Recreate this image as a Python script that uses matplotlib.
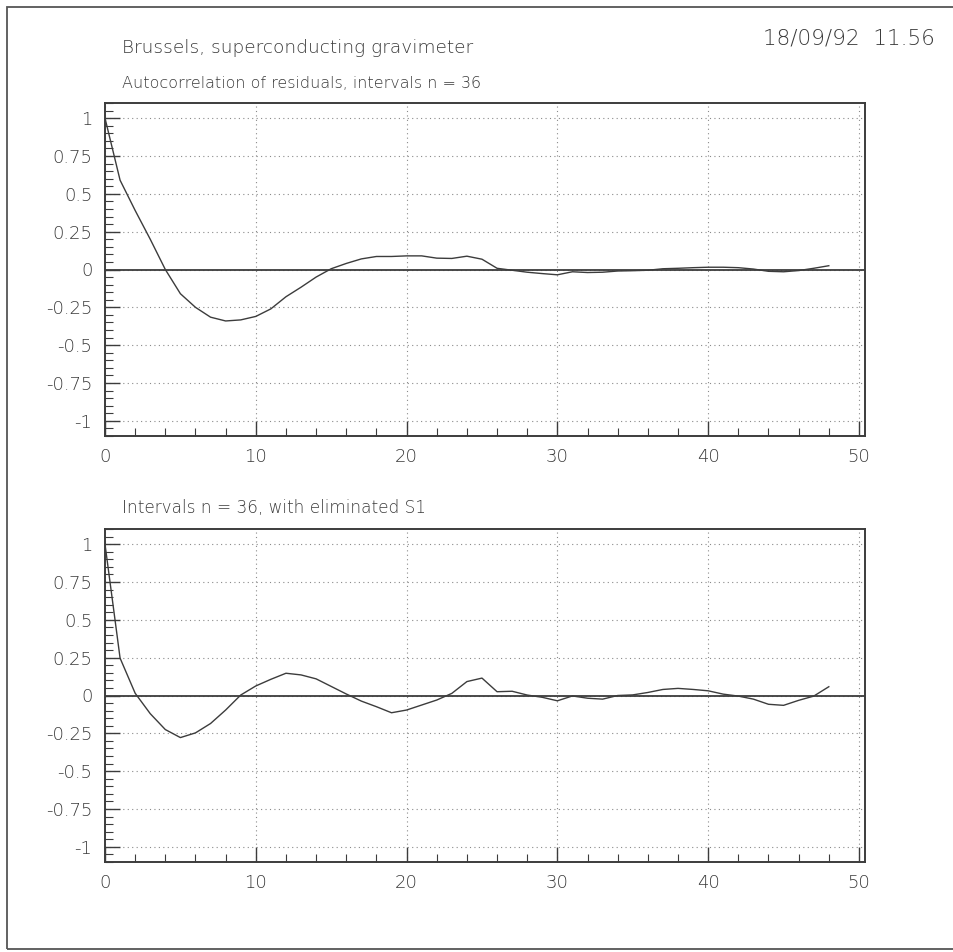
import numpy as np
import matplotlib.pyplot as plt
from matplotlib.patches import Rectangle
from matplotlib.ticker import MultipleLocator, FuncFormatter

# autocorrelation of residuals, lags 0..48
lags = np.arange(49)
acf_resid = [1.00, 0.59, 0.39, 0.20, 0.00, -0.16, -0.25, -0.315, -0.34, -0.333,
             -0.31, -0.26, -0.18, -0.117, -0.05, 0.005, 0.04, 0.07, 0.086, 0.086,
             0.09, 0.09, 0.075, 0.073, 0.088, 0.068, 0.008, -0.005, -0.018, -0.027,
             -0.035, -0.015, -0.02, -0.018, -0.01, -0.008, -0.005, 0.005, 0.008, 0.012,
             0.015, 0.015, 0.012, 0.003, -0.012, -0.015, -0.007, 0.008, 0.025]

# same, after removing S1
acf_no_s1 = [1.00, 0.247, 0.015, -0.12, -0.225, -0.278, -0.247, -0.185, -0.096, 0.003,
             0.063, 0.107, 0.147, 0.136, 0.11, 0.06, 0.01, -0.037, -0.074, -0.114,
             -0.096, -0.063, -0.03, 0.014, 0.092, 0.115, 0.025, 0.028, 0.003, -0.012,
             -0.035, -0.003, -0.018, -0.024, 0.0, 0.004, 0.02, 0.04, 0.047, 0.04,
             0.031, 0.009, -0.004, -0.024, -0.058, -0.065, -0.032, -0.004, 0.058]

x_ticks = [0, 10, 20, 30, 40, 50]
y_ticks = [-1, -0.75, -0.5, -0.25, 0, 0.25, 0.5, 0.75, 1]

INK = "#3c3c3c"
TXT = "#3a3a3a"
FONT = "DejaVu Sans"

fig = plt.figure(figsize=(9.54, 9.52), dpi=100)
W, H = 954, 952


def px_axes(left, top, right, bottom):
    return fig.add_axes([left / W, 1 - bottom / H, (right - left) / W, (bottom - top) / H])


def style(ax, values):
    ax.plot(lags, values, color=INK, lw=1.0)
    ax.axhline(0, color=INK, lw=1.3)
    ax.set_xlim(0, 50.4)
    ax.set_ylim(-1.1, 1.1)
    ax.set_xticks(x_ticks)
    ax.set_yticks(y_ticks)
    ax.xaxis.set_minor_locator(MultipleLocator(2))
    ax.yaxis.set_minor_locator(MultipleLocator(0.05))
    ax.yaxis.set_major_formatter(FuncFormatter(lambda v, _: "%g" % v))
    ax.grid(True, which="major", color="#8a8a8a", lw=0.8, linestyle=(0, (1, 3)))
    ax.tick_params(which="major", direction="in", length=11, width=1.0, color=INK,
                   labelsize=13, labelcolor=TXT, pad=9)
    ax.tick_params(which="minor", direction="in", length=5.5, width=0.8, color=INK)
    for lab in ax.get_xticklabels() + ax.get_yticklabels():
        lab.set_family(FONT)
        lab.set_fontweight("light")
    for sp in ax.spines.values():
        sp.set_color(INK)
        sp.set_linewidth(1.4)


ax1 = px_axes(105, 103, 865, 436)
style(ax1, acf_resid)
ax2 = px_axes(105, 529, 865, 862)
style(ax2, acf_no_s1)

fig.text(122 / W, 1 - 48 / H, "Brussels, superconducting gravimeter", fontsize=13.3,
         color=TXT, family=FONT, weight="light", va="center", ha="left")
fig.text(935 / W, 1 - 38 / H, "18/09/92  11.56", fontsize=15.5,
         color=TXT, family=FONT, weight="light", va="center", ha="right")
fig.text(122 / W, 1 - 83 / H, "Autocorrelation of residuals, intervals n = 36", fontsize=11.5,
         color=TXT, family=FONT, weight="light", va="center", ha="left")
fig.text(122 / W, 1 - 508 / H, "Intervals n = 36, with eliminated S1", fontsize=12.2,
         color=TXT, family=FONT, weight="light", va="center", ha="left")

# page border
fig.patches.append(Rectangle((7 / W, 1 - 949 / H), 1.1, 942 / H, transform=fig.transFigure,
                             fill=False, edgecolor="#555555", lw=1.3))

fig.savefig("out.png", dpi=100, facecolor="white")
